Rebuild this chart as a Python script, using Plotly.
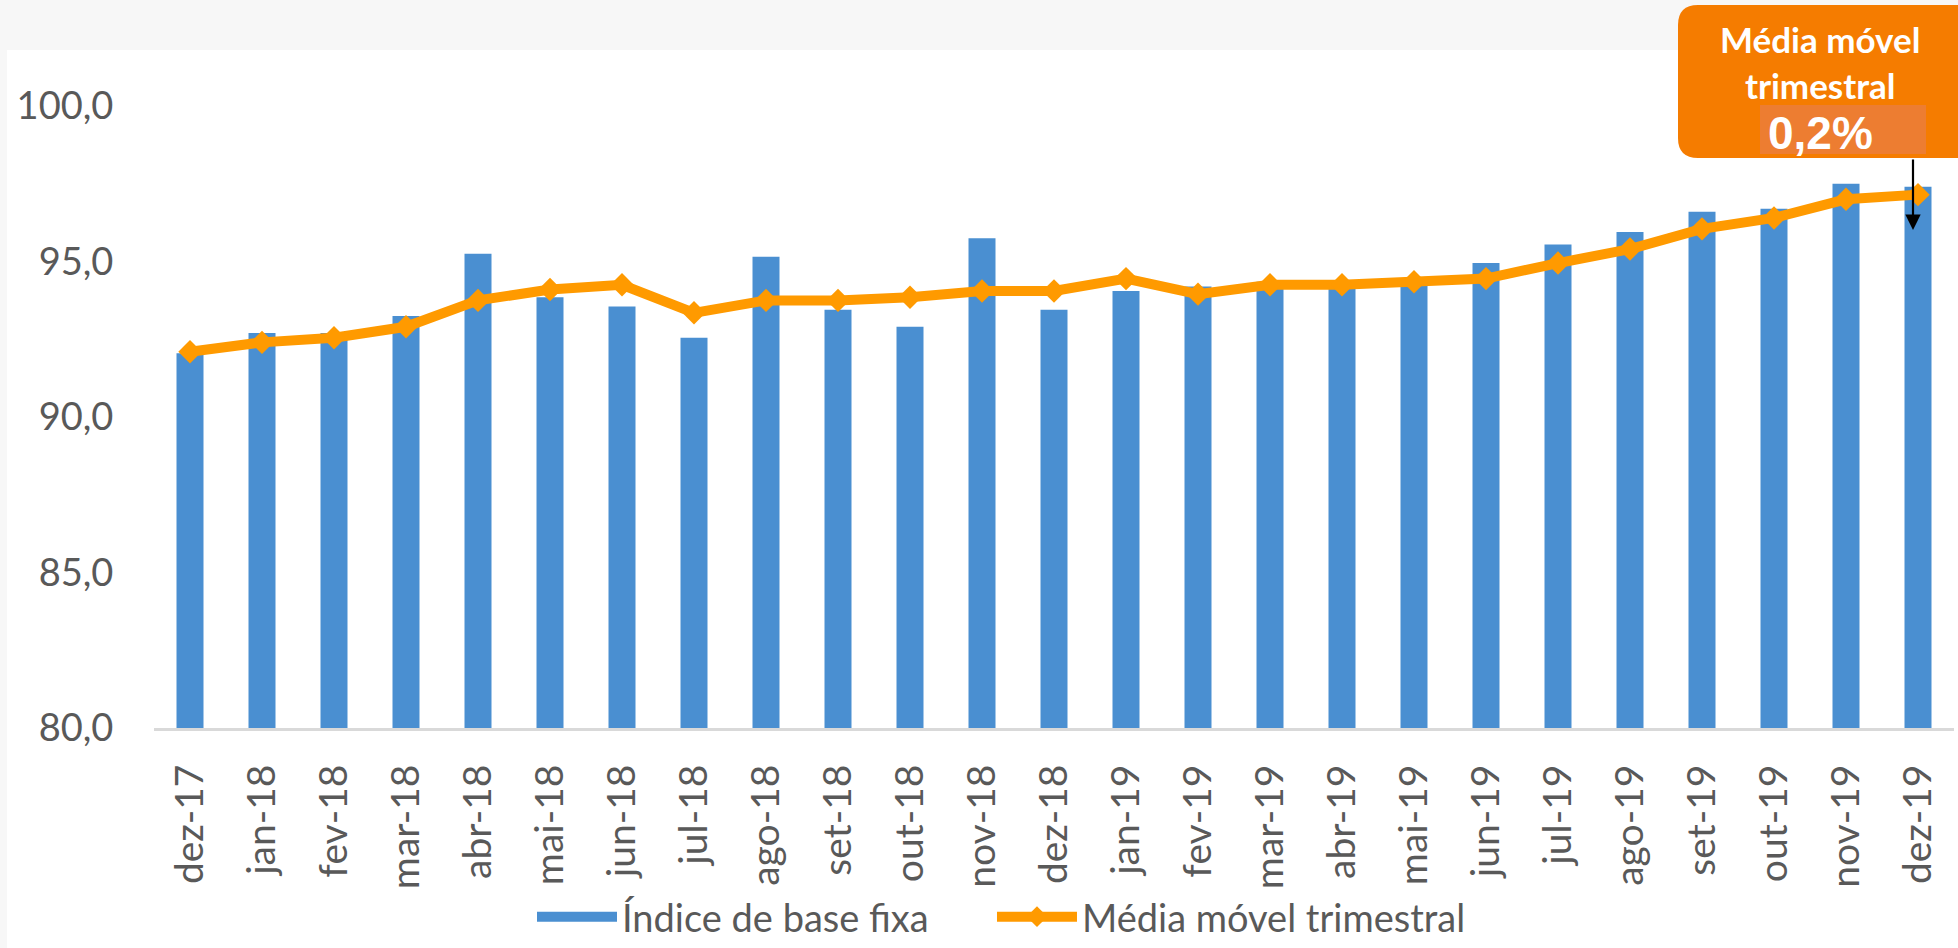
import plotly.graph_objects as go

categories = ["dez-17", "jan-18", "fev-18", "mar-18", "abr-18", "mai-18", "jun-18", "jul-18",
              "ago-18", "set-18", "out-18", "nov-18", "dez-18", "jan-19", "fev-19", "mar-19",
              "abr-19", "mai-19", "jun-19", "jul-19", "ago-19", "set-19", "out-19", "nov-19", "dez-19"]

indice_base_fixa = [92.05, 92.7, 92.7, 93.25, 95.25, 93.85, 93.55, 92.55, 95.15, 93.45, 92.9, 95.75,
                    93.45, 94.05, 94.2, 94.35, 94.2, 94.35, 94.95, 95.55, 95.95, 96.6, 96.7, 97.5, 97.4]

media_movel = [92.1, 92.4, 92.55, 92.9, 93.75, 94.1, 94.25, 93.35, 93.75, 93.75, 93.85, 94.05,
               94.05, 94.45, 93.95, 94.25, 94.25, 94.35, 94.45, 94.95, 95.4, 96.05, 96.4, 97.0, 97.15]

y_tickvals = [80, 85, 90, 95, 100]
y_ticktext = ["80,0", "85,0", "90,0", "95,0", "100,0"]

callout_title = ["Média móvel", "trimestral"]
callout_value = "0,2%"

bar_name = "Índice de base fixa"
line_name = "Média móvel trimestral"

FONT = "Lato, Calibri, Carlito, sans-serif"
GREY_TXT = "#595959"
BLUE = "#4a8fd1"
ORANGE = "#ff9a00"

fig = go.Figure()
fig.add_trace(go.Bar(
    x=categories, y=indice_base_fixa, name=bar_name,
    marker=dict(color=BLUE, line=dict(width=0)),
    showlegend=False, legendgroup="idx",
))
# legend entry for the bar series (wide block symbol); trailing nbsp for item spacing
fig.add_trace(go.Scatter(
    x=[None], y=[None], name=bar_name + "\u00a0" * 6, mode="lines",
    line=dict(color=BLUE, width=22), legendgroup="idx", hoverinfo="skip",
))
fig.add_trace(go.Scatter(
    x=categories, y=media_movel, name=line_name,
    mode="lines+markers",
    line=dict(color=ORANGE, width=10),
    marker=dict(symbol="diamond", size=18, color=ORANGE),
))

W, H = 1958, 948
L, R, T, B = 154, 4, 106, 220
plot_w = W - L - R
plot_h = H - T - B

def px_x(p):
    return (p - L) / plot_w

def px_y(p):
    return (H - B - p) / plot_h

shapes = []
# page grey border / white chart area
shapes.append(dict(type="rect", xref="paper", yref="paper",
                   x0=px_x(7), x1=px_x(W + 10), y0=px_y(H + 10), y1=px_y(50),
                   fillcolor="white", line=dict(width=0), layer="below"))

# rounded orange callout box
x0, x1, y0, y1 = 1678, 1980, 5, 158
r = 20
rx = r / plot_w
ry = r / plot_h
X0, X1 = px_x(x0), px_x(x1)
Y0, Y1 = px_y(y1), px_y(y0)
path = (f"M {X0+rx},{Y1} L {X1-rx},{Y1} Q {X1},{Y1} {X1},{Y1-ry} "
        f"L {X1},{Y0+ry} Q {X1},{Y0} {X1-rx},{Y0} "
        f"L {X0+rx},{Y0} Q {X0},{Y0} {X0},{Y0+ry} "
        f"L {X0},{Y1-ry} Q {X0},{Y1} {X0+rx},{Y1} Z")
shapes.append(dict(type="path", xref="paper", yref="paper", path=path,
                   fillcolor="#f57c00", line=dict(width=0), layer="above"))
shapes.append(dict(type="rect", xref="paper", yref="paper",
                   x0=px_x(1760), x1=px_x(1926), y0=px_y(154), y1=px_y(105),
                   fillcolor="#ed7d31", line=dict(width=0), layer="above"))

annotations = [
    dict(xref="paper", yref="paper", x=px_x(1820), y=px_y(62.5), text="<br>".join(callout_title),
         showarrow=False, font=dict(family=FONT, size=35, color="white", weight="bold"),
         xanchor="center", yanchor="middle", align="center"),
    dict(xref="paper", yref="paper", x=px_x(1820), y=px_y(133), text=callout_value,
         showarrow=False,
         font=dict(family="Liberation Sans, Arial, sans-serif", size=46, color="white", weight="bold"),
         xanchor="center", yanchor="middle"),
    dict(xref="paper", yref="paper", x=px_x(1913), y=px_y(230), text="",
         showarrow=True, ax=0, ay=-72, arrowhead=2, arrowsize=1.4, arrowwidth=2.2,
         arrowcolor="black"),
]

fig.update_layout(
    width=W, height=H,
    margin=dict(l=L, r=R, t=T, b=B, pad=0),
    paper_bgcolor="#f7f7f7",
    plot_bgcolor="rgba(0,0,0,0)",
    bargap=0.625,
    font=dict(family=FONT, color=GREY_TXT),
    showlegend=True,
    legend=dict(orientation="h", xref="container", yref="container",
                x=532 / W, xanchor="left", y=(H - 917) / H, yanchor="middle",
                font=dict(family=FONT, size=38, color=GREY_TXT), itemwidth=80,
                bgcolor="rgba(0,0,0,0)", traceorder="normal", borderwidth=0),
    shapes=shapes,
    annotations=annotations,
    xaxis=dict(type="category", range=[-0.5, len(categories) - 0.5], automargin=False,
               tickangle=-90, showgrid=False, zeroline=False,
               showline=True, linecolor="#d9d9d9", linewidth=3,
               ticks="outside", ticklen=18, tickcolor="rgba(0,0,0,0)",
               tickfont=dict(family=FONT, size=39, color=GREY_TXT)),
    yaxis=dict(range=[80, 100], tickvals=y_tickvals, ticktext=y_ticktext, automargin=False,
               showgrid=False, zeroline=False, showline=False,
               ticks="outside", ticklen=32, tickcolor="rgba(0,0,0,0)",
               tickfont=dict(family=FONT, size=38, color=GREY_TXT)),
)

fig.write_html("out.html", config={"displayModeBar": False},
               post_script="document.body.style.margin='0';")
